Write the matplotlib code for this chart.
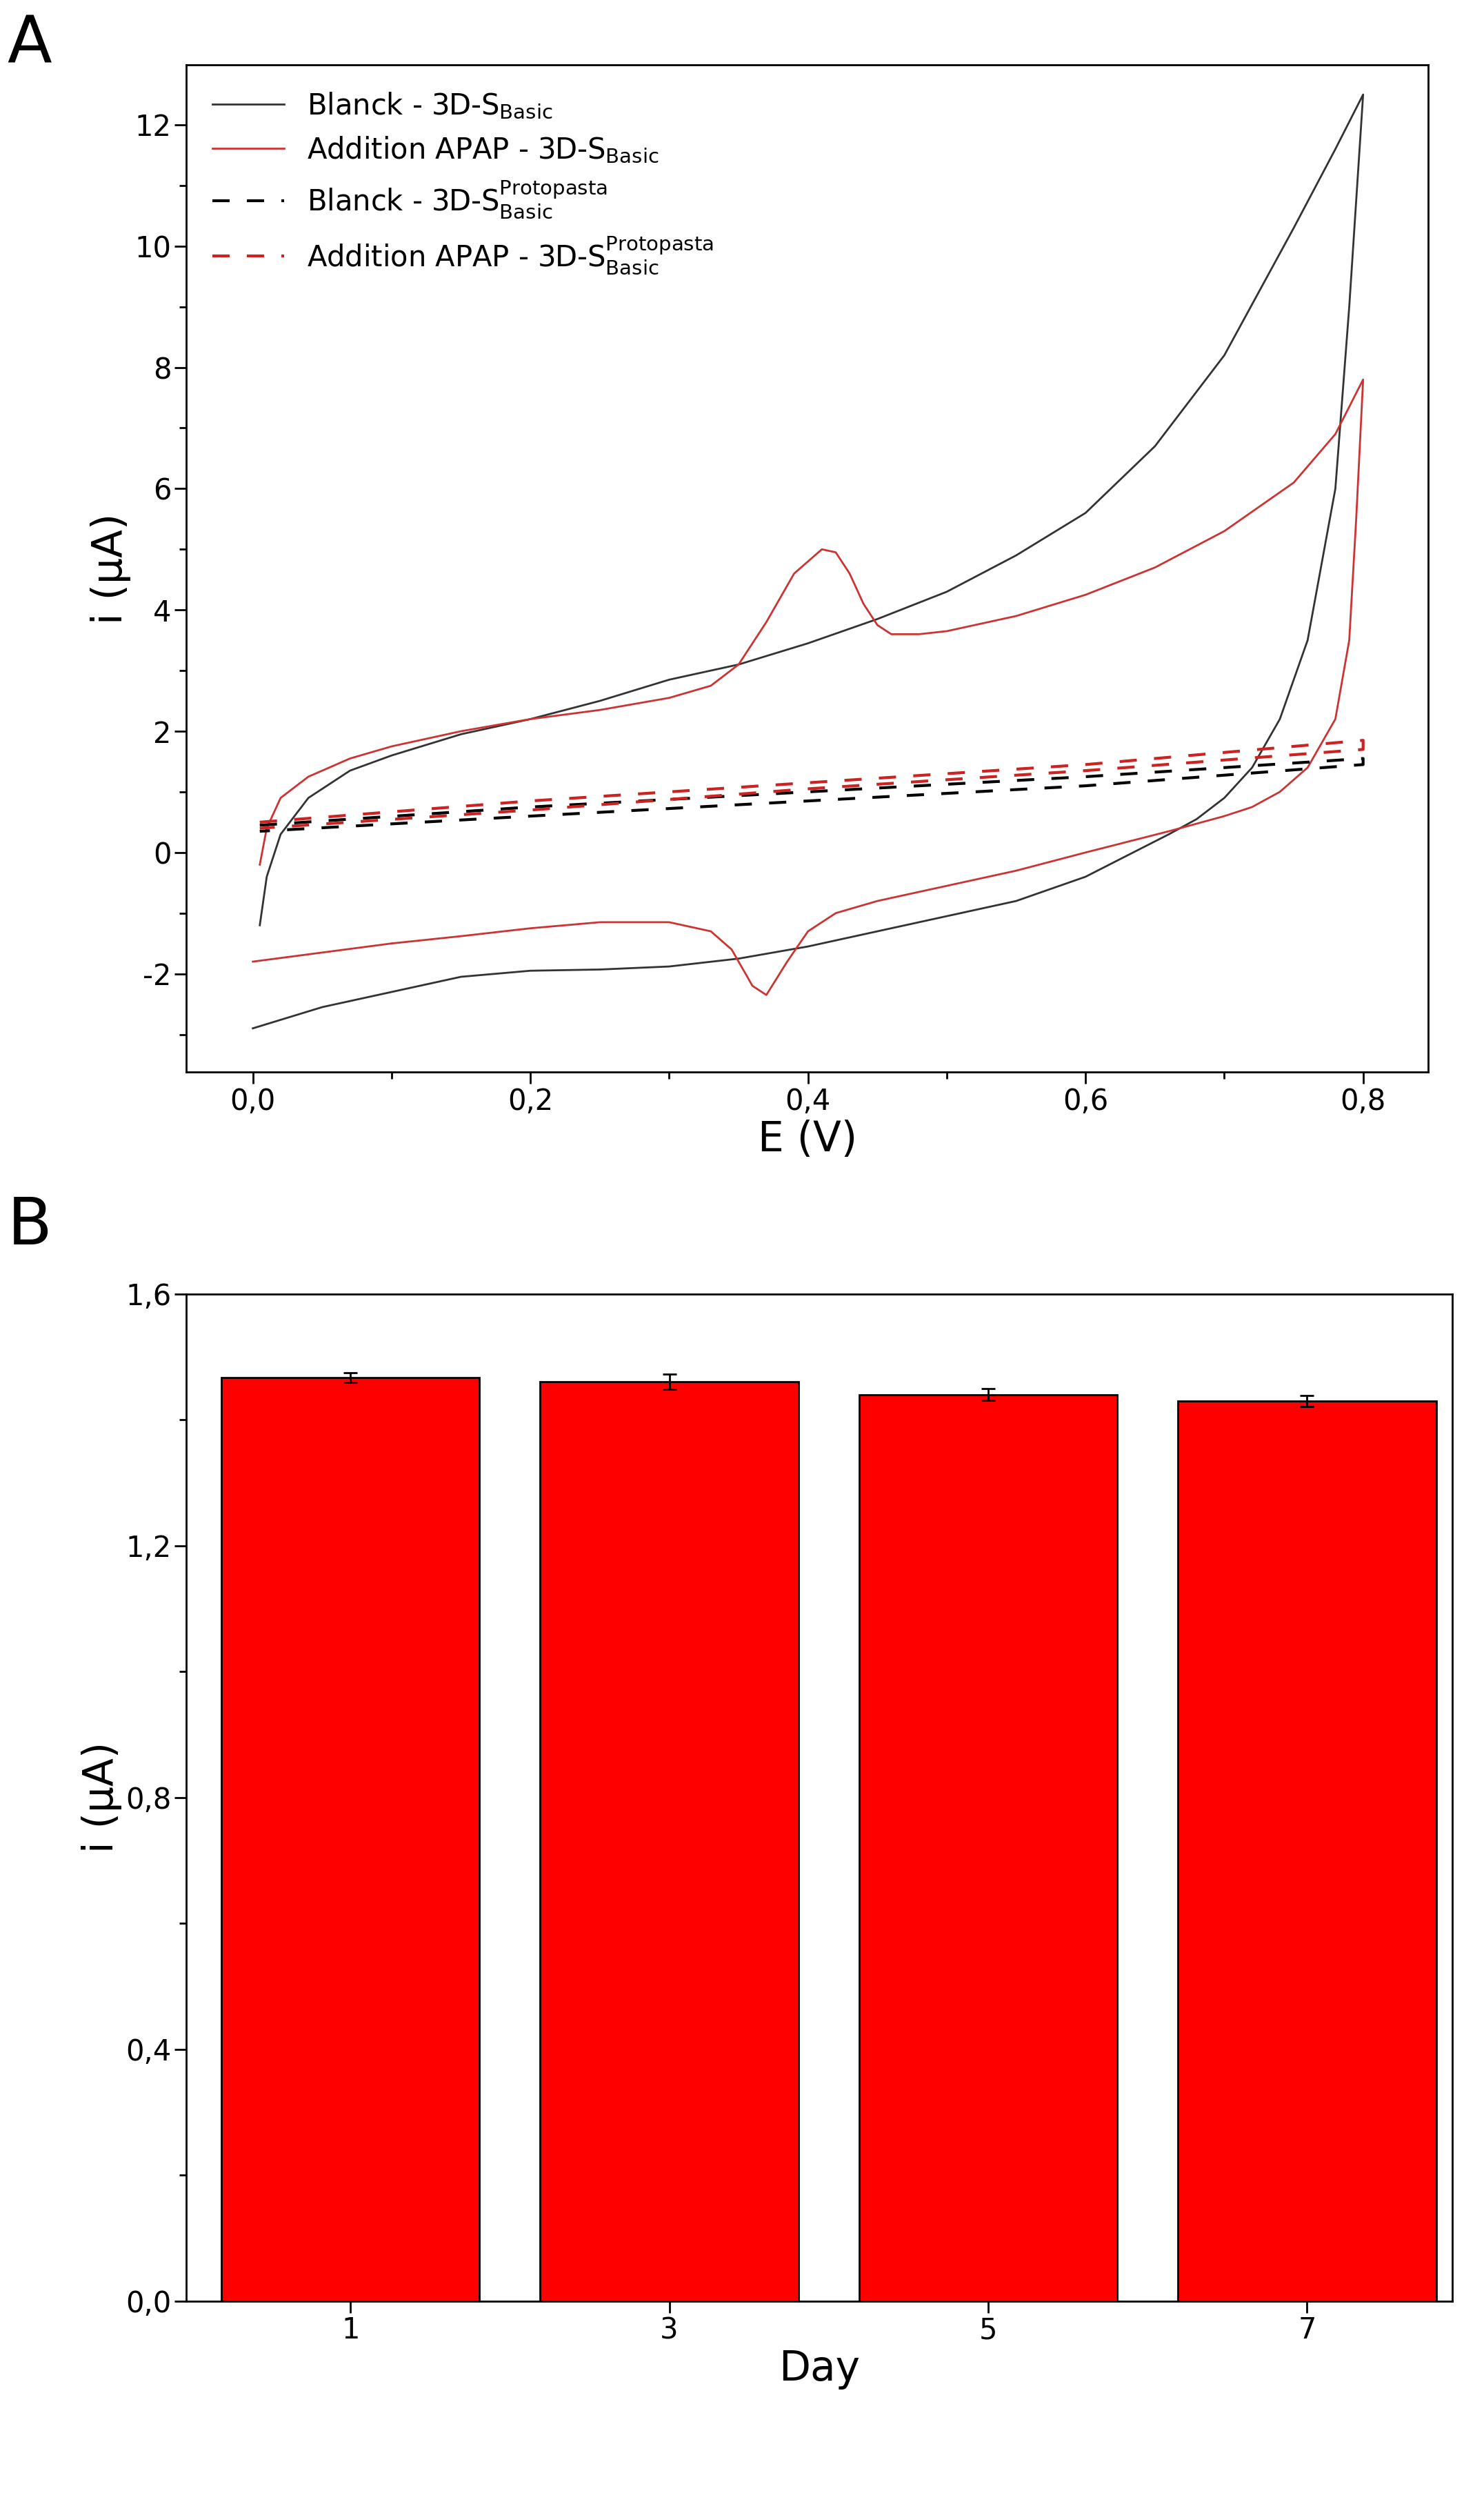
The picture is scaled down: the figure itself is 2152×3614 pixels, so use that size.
import matplotlib
matplotlib.use("Agg")
import matplotlib.pyplot as plt
from matplotlib.ticker import FuncFormatter, MultipleLocator

# CV data
blk_E = [0.005,0.01,0.02,0.04,0.07,0.1,0.15,0.2,0.25,0.3,0.35,0.4,0.45,0.5,0.55,0.6,0.65,0.7,0.75,0.78,0.8,
         0.8,0.79,0.78,0.76,0.74,0.72,0.7,0.68,0.66,0.63,0.6,0.55,0.5,0.45,0.4,0.35,0.3,0.25,0.2,0.15,0.1,0.05,0.0]
blk_i = [-1.2,-0.4,0.3,0.9,1.35,1.6,1.95,2.2,2.5,2.85,3.1,3.45,3.85,4.3,4.9,5.6,6.7,8.2,10.3,11.6,12.5,
         12.5,9.0,6.0,3.5,2.2,1.4,0.9,0.55,0.3,-0.05,-0.4,-0.8,-1.05,-1.3,-1.55,-1.75,-1.88,-1.93,-1.95,-2.05,-2.3,-2.55,-2.9]
red_E = [0.005,0.01,0.02,0.04,0.07,0.1,0.15,0.2,0.25,0.3,0.33,0.35,0.37,0.39,0.41,0.42,0.43,0.44,0.45,0.46,0.48,0.5,0.55,0.6,0.65,0.7,0.75,0.78,0.8,
         0.8,0.795,0.79,0.78,0.76,0.74,0.72,0.7,0.66,0.6,0.55,0.5,0.45,0.42,0.4,0.385,0.37,0.36,0.345,0.33,0.3,0.25,0.2,0.15,0.1,0.05,0.0]
red_i = [-0.2,0.4,0.9,1.25,1.55,1.75,2.0,2.2,2.35,2.55,2.75,3.1,3.8,4.6,5.0,4.95,4.6,4.1,3.75,3.6,3.6,3.65,3.9,4.25,4.7,5.3,6.1,6.9,7.8,
         7.8,5.5,3.5,2.2,1.4,1.0,0.75,0.6,0.35,0.0,-0.3,-0.55,-0.8,-1.0,-1.3,-1.8,-2.35,-2.2,-1.6,-1.3,-1.15,-1.15,-1.25,-1.38,-1.5,-1.65,-1.8]
bd_E = [0.005,0.2,0.4,0.6,0.8,0.8,0.6,0.4,0.2,0.005]
bd_i = [0.45,0.75,1.0,1.25,1.55,1.45,1.1,0.85,0.6,0.35]
rd_E = [0.005,0.2,0.4,0.6,0.8,0.8,0.6,0.4,0.2,0.005]
rd_i = [0.5,0.85,1.15,1.45,1.85,1.7,1.35,1.05,0.7,0.4]

days = [1,3,5,7]
currents = [1.467,1.460,1.440,1.430]
errors = [0.008,0.012,0.009,0.009]

fig = plt.figure(figsize=(21.52,36.14), dpi=100)
comma = FuncFormatter(lambda v,p: f"{v:.1f}".replace(".",","))

ax = fig.add_axes([0.1255,0.570,0.837,0.404])
ax.plot(blk_E, blk_i, color='#333333', lw=2)
ax.plot(red_E, red_i, color='#cc3333', lw=2)
ax.plot(bd_E, bd_i, color='black', lw=3, ls=(0,(6,6)))
ax.plot(rd_E, rd_i, color='#cc2222', lw=3, ls=(0,(6,6)))
ax.set_xlim(-0.048,0.847); ax.set_ylim(-3.62,12.99)
ax.xaxis.set_major_locator(MultipleLocator(0.2)); ax.xaxis.set_minor_locator(MultipleLocator(0.1))
ax.yaxis.set_major_locator(MultipleLocator(2)); ax.yaxis.set_minor_locator(MultipleLocator(1))
ax.xaxis.set_major_formatter(comma)
ax.yaxis.set_major_formatter(FuncFormatter(lambda v,p: f"{v:.0f}"))
ax.tick_params(labelsize=30, width=2, length=12)
ax.tick_params(which='minor', width=2, length=7)
for s in ax.spines.values(): s.set_linewidth(2)
ax.set_xlabel("E (V)", fontsize=43)
ax.set_ylabel("i (µA)", fontsize=43)
ax.legend(["Blanck - 3D-S$_{\\mathrm{Basic}}$", "Addition APAP - 3D-S$_{\\mathrm{Basic}}$",
           "Blanck - 3D-S$^{\\mathrm{Protopasta}}_{\\mathrm{Basic}}$", "Addition APAP - 3D-S$^{\\mathrm{Protopasta}}_{\\mathrm{Basic}}$"],
          loc='upper left', fontsize=30, frameon=False, handlelength=2.5)
fig.text(0.005,0.982,"A", fontsize=68, va='center')

bx = fig.add_axes([0.1255,0.077,0.853,0.404])
bx.bar(days, currents, width=1.62, color='#ff0000', edgecolor='black', lw=2,
       yerr=errors, capsize=7, error_kw=dict(elinewidth=2, capthick=2))
bx.set_xlim(-0.03,7.91); bx.set_ylim(0,1.6)
bx.set_xticks(days)
bx.yaxis.set_major_locator(MultipleLocator(0.4)); bx.yaxis.set_minor_locator(MultipleLocator(0.2))
bx.yaxis.set_major_formatter(comma)
bx.tick_params(labelsize=30, width=2, length=12)
bx.tick_params(which='minor', width=2, length=7)
for s in bx.spines.values(): s.set_linewidth(2)
bx.set_xlabel("Day", fontsize=43)
bx.set_ylabel("i (µA)", fontsize=43)
fig.text(0.005,0.508,"B", fontsize=68, va='center')

fig.savefig("out.png", dpi=100)
